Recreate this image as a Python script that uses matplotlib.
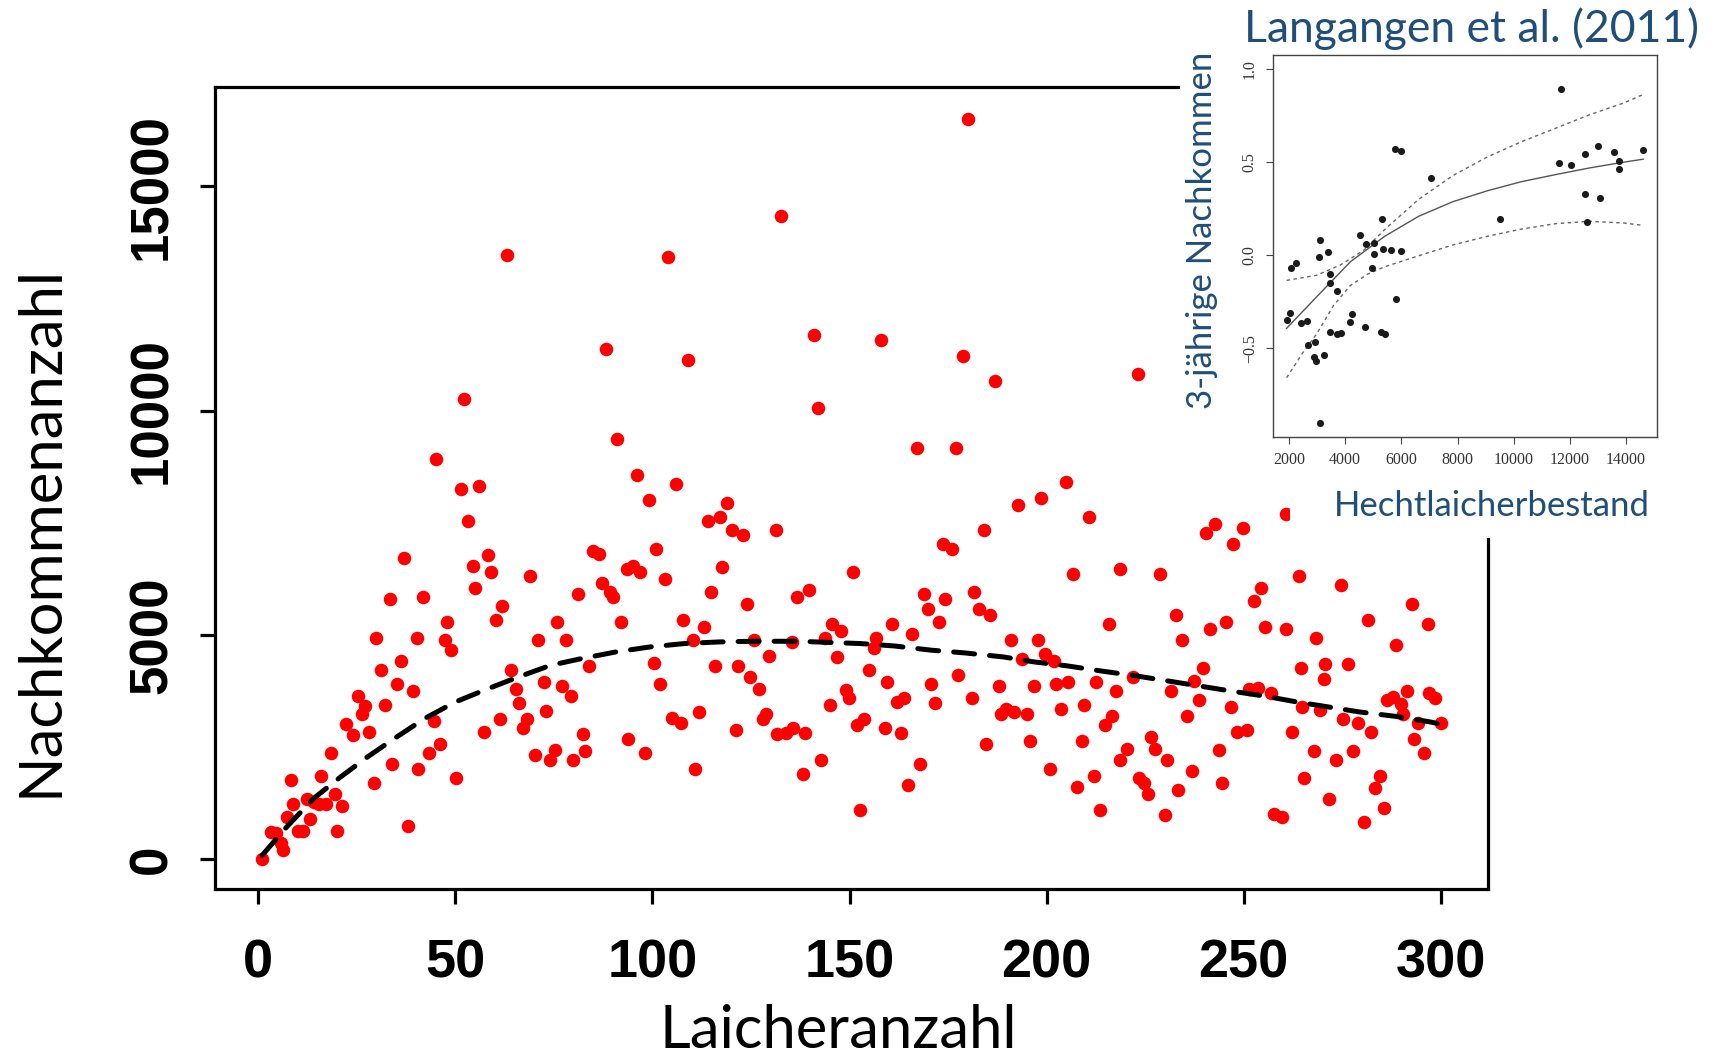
import numpy as np
import matplotlib.pyplot as plt
from matplotlib.patches import Rectangle

# spawners vs. recruits (simulated stock)
laicher = [1, 3.2, 4.5, 5.7, 6.2, 7.2, 8.4, 8.9, 10.2, 11.4, 12.5, 13.1, 14.2, 15.4, 15.9, 17.1,
           18.4, 19.5, 20.1, 21.2, 22.2, 24.1, 25.3, 26.4, 27.0, 28.1, 29.4, 30.0, 31.1, 32.2,
           33.5, 34.0, 35.1, 36.3, 36.9, 38.0, 39.2, 40.3, 40.6, 41.9,
           43.3, 44.6, 45.0, 46.2, 47.3, 47.9, 49.0, 50.2, 51.5, 52.1, 53.2, 54.4, 54.9, 56.1,
           57.2, 58.4, 59.1, 60.2, 61.3, 61.9, 63.2, 64.2, 65.4, 66.1, 67.1, 68.3, 68.9, 70.1,
           71.1, 72.4, 73.0, 74.1, 75.4, 75.9, 77.0, 78.2, 79.3, 79.9, 81.1, 82.3, 82.9, 84.0, 85.0,
           86.4, 87.2, 88.1, 89.3, 89.9, 91.0, 92.1, 93.5, 93.9, 95.0, 96.2, 96.9, 98.0, 99.1,
           100.3, 100.9, 102.0, 103.2, 103.9, 104.9, 106.0, 107.3, 107.8, 108.9, 110.2, 110.8,
           111.9, 113.1, 114.2, 114.9, 115.9, 117.1, 117.7, 118.8, 120.1, 121.2, 121.8, 122.9,
           124.1, 124.7, 125.8, 127.1, 128.1, 128.9, 129.5,
           131.3, 131.6, 132.7, 134.0, 135.3, 135.7, 136.8, 138.1, 138.7, 139.7, 141.0, 142.1,
           142.7, 143.9, 145.1, 145.6, 146.8, 147.9, 149.0, 149.8, 150.9, 151.9, 152.6, 153.7,
           154.9, 156.1, 156.6, 157.9, 159.0, 159.6, 160.8, 162.0, 163.0, 163.7, 164.8, 165.9,
           167.1, 167.8, 168.9, 170.0, 170.6, 171.8, 172.8, 173.7, 174.3,
           176.0, 177.0, 177.6, 178.7, 180.1, 181.0, 181.7, 182.8, 184.0, 184.6, 185.7, 187.0,
           188.0, 188.4, 189.7, 191.0, 191.6, 192.7, 193.8, 195.0, 195.7, 196.8, 197.9, 198.6,
           199.7, 200.8, 201.9, 202.5, 203.7, 204.9, 205.5, 206.7, 207.8, 208.9, 209.5, 210.7,
           211.9, 212.5, 213.6, 214.8, 215.9, 216.5, 217.5, 218.5, 218.6, 220.5,
           221.8, 223.3, 223.5, 224.7, 225.8, 226.4, 227.4, 228.8, 229.9, 230.5, 231.6, 232.7,
           233.4, 234.4, 235.7, 236.8, 237.4, 238.7, 239.7, 240.3, 241.4, 242.7, 243.7, 244.4,
           245.6, 246.7, 247.3, 248.4, 249.7, 250.8, 251.3, 252.7, 253.7, 254.3, 255.5, 256.8,
           257.6, 259.6, 260.7, 260.8, 262.3,
           264.0, 264.5, 264.8, 265.4, 267.8, 268.3, 269.4, 270.3, 270.6, 271.7, 273.5, 274.7,
           275.1, 276.4, 277.6, 279.1, 280.4, 281.6, 282.3, 283.4, 284.5, 285.7, 286.3, 287.8,
           288.5, 289.9, 290.4, 291.4, 292.7, 293.2, 294.3, 295.6, 296.8, 297.1, 298.6, 300]
nachkommen = [0, 608, 580, 357, 200, 943, 1760, 1240, 631, 631, 1353, 892, 1277, 1240, 1857, 1240,
              2378, 1464, 631, 1188, 3009, 2779, 3649, 3232, 3410, 2831, 1710, 4933, 4213, 3448,
              5795, 2117, 3901, 4420, 6725, 742, 3752, 4933, 2021, 5847,
              2378, 3083, 8923, 2579, 4881, 5290, 4674, 1812, 8262, 10250, 7541, 6531, 6056, 8314,
              2838, 6776, 6404, 5343, 3136, 5655, 13465, 4213, 3790, 3493, 2935, 3136, 6313, 2323,
              4881, 3954, 3299, 2207, 2430, 5290, 3864, 4881, 3649, 2220, 5907, 2786, 2414, 4309, 6870,
              6810, 6157, 11370, 5958, 5847, 9377, 5290, 6479, 2675, 6531, 8566, 6404, 2370, 8002,
              4383, 6921, 3901, 6253, 13415, 3150, 8366, 3038, 5343, 11127, 4881, 2012,
              3284, 5179, 7541, 5958, 4309, 7630, 6516, 7951, 7333, 2875, 4309, 7229,
              5697, 4064, 4881, 3804, 3121, 3247, 4525,
              7333, 2786, 14340, 2823, 4844, 2935, 5847, 1910, 2823, 5996, 11690, 10056,
              2220, 4941, 3448, 5238, 4510, 5089, 3767, 3596, 6404, 2987, 1092, 3136,
              4213, 4710, 4941, 11565, 2935, 3954, 5238, 3507, 2823, 3604, 1656, 5031,
              9177, 2117, 5907, 5588, 3901, 3493, 5290, 7036, 5795,
              6921, 9177, 4116, 11225, 16500, 3604, 5958, 5588, 7333, 2579, 5439, 10665,
              3864, 3232, 3359, 4881, 3284, 7898, 4472, 3247, 2637, 3864, 4881, 8054,
              4585, 2021, 4420, 3916, 3344, 8410, 3954, 6359, 1605, 2637, 3448, 7639,
              1857, 3954, 1092, 2987, 5238, 3194, 3752, 2207, 6464, 2467,
              4064, 10810, 1820, 1701, 1449, 2727, 2467, 6366, 987, 2220, 3752, 5439,
              1554, 4881, 3194, 1968, 3975, 3544, 4264, 7281, 5127, 7481, 2430, 1710,
              5290, 3396, 7021, 2838, 7392, 2875, 3804, 5751, 3827, 6056, 5179, 3707,
              1003, 943, 5127, 7690, 2838,
              6313, 4264, 3396, 1803, 2414, 4933, 3337, 4012, 4361, 1344, 2207, 6107,
              3128, 4361, 2414, 3038, 832, 5343, 2831, 1598, 1857, 1143, 3544, 3618,
              4777, 3455, 3232, 3752, 5697, 2675, 3038, 2370, 5238, 3707, 3596, 3038]

# smoothed mean
trend_x = [1, 6.9, 14.1, 20.9, 27.7, 34.5, 42.2, 50.0, 57.7, 66.0, 74.2, 82.0, 90.7, 99.4,
           108.1, 116.8, 125.5, 137.0, 152.8, 161.3, 170.9, 179.3, 189.0, 196.9, 204.8, 213.8,
           221.7, 230.8, 238.7, 246.6, 255.6, 263.5, 271.5, 279.4, 288.4, 297.4, 300]
trend_y = [89, 690, 1360, 1835, 2280, 2690, 3136, 3506, 3782, 4064, 4324, 4473, 4621, 4733,
           4808, 4844, 4859, 4859, 4808, 4755, 4659, 4599, 4510, 4398, 4316, 4197,
           4101, 3974, 3863, 3752, 3633, 3506, 3395, 3283, 3187, 3060, 3009]

# Langangen et al. (2011): pike spawning stock vs. 3-year recruits
hecht_x = [1915, 2024, 2061, 2243, 2425, 2632, 2680, 2923, 2887, 2972, 3251, 3057, 3117, 3117,
           3373, 3445, 3445, 3458, 3725, 3725, 3846, 4174, 4259, 4539, 4745, 4709, 5024, 5036,
           4963, 5316, 5340, 5292, 5425, 5620, 5802, 5790, 5972, 5996, 7065, 9494, 11680,
           11620, 12033, 12543, 12543, 12604, 13004, 13065, 13587, 13745, 13757, 14607]
hecht_y = [-0.350, -0.313, -0.072, -0.042, -0.362, -0.353, -0.480, -0.466, -0.549, -0.571,
           -0.538, -0.009, 0.083, -0.900, 0.014, -0.101, -0.149, -0.411, -0.194, -0.422,
           -0.418, -0.357, -0.317, 0.107, 0.060, -0.384, 0.063, 0.007, -0.069, 0.192, 0.033,
           -0.411, -0.424, 0.025, -0.236, 0.571, 0.558, 0.022, 0.411, 0.196, 0.888, 0.495,
           0.482, 0.540, 0.326, 0.176, 0.583, 0.308, 0.551, 0.502, 0.460, 0.563]
fit_x = [1915, 2972, 4186, 5401, 6616, 7830, 9045, 10260, 11474, 12689, 13903, 14607]
fit_y = [-0.393, -0.226, -0.036, 0.100, 0.208, 0.286, 0.344, 0.393, 0.431, 0.467, 0.498, 0.514]
upper_x = [1915, 2972, 3822, 4672, 5401, 6616, 7830, 9045, 10260, 11474, 12689, 13903, 14607]
upper_y = [-0.136, -0.109, -0.054, 0.027, 0.136, 0.299, 0.426, 0.525, 0.607, 0.679, 0.752,
           0.815, 0.861]
lower_x = [1915, 2486, 2972, 3579, 4186, 4794, 5401, 6616, 7830, 9045, 10260, 11474, 12689,
           13903, 14607]
lower_y = [-0.658, -0.525, -0.426, -0.272, -0.163, -0.103, -0.063, -0.004, 0.054, 0.100,
           0.139, 0.168, 0.181, 0.172, 0.159]

W, H = 1713, 1059
blue = '#1F4E79'
calibri = ['Lato', 'DejaVu Sans']

def box(l, t, r, b):
    # pixel box -> figure fraction rect
    return [l / W, 1 - b / H, (r - l) / W, (b - t) / H]

fig = plt.figure(figsize=(W / 100, H / 100), dpi=100)

ax = fig.add_axes(box(215, 87, 1488, 889))
ax.scatter(laicher, nachkommen, s=95, c='red', linewidths=0, zorder=2)
ax.plot(trend_x, trend_y, color='black', lw=3.6, dashes=(4.2, 3.0),
        dash_capstyle='round', zorder=3)
ax.set_xlim(-10.96, 311.96)
ax.set_ylim(-662, 17212)
ax.set_xticks([0, 50, 100, 150, 200, 250, 300])
ax.set_yticks([0, 5000, 10000, 15000])
for sp in ax.spines.values():
    sp.set_linewidth(2.3)
ax.tick_params(length=11, width=2.3)
ax.tick_params(axis='x', pad=25)
ax.tick_params(axis='y', pad=16)
for lab in ax.get_xticklabels():
    lab.set_fontfamily('Liberation Sans')
    lab.set_fontweight('bold')
    lab.set_fontsize(39)
for lab in ax.get_yticklabels():
    lab.set_fontfamily('Liberation Sans')
    lab.set_fontweight('bold')
    lab.set_fontsize(38)
    lab.set_rotation(90)
    lab.set_verticalalignment('center')

fig.text(41 / W, 1 - 531 / H, 'Nachkommenanzahl', rotation=90, ha='center', va='center',
         fontsize=43, family=calibri)
fig.text(838 / W, 1 - 1031 / H, 'Laicheranzahl', ha='center', va='center',
         fontsize=43, family=calibri)

# white background of the pasted inset
fig.add_artist(Rectangle((1180 / W, 1 - 470 / H), (W - 1180) / W, 470 / H,
                         transform=fig.transFigure, facecolor='white', edgecolor='none', zorder=5))
fig.add_artist(Rectangle((1290 / W, 1 - 538 / H), (W - 1290) / W, 70 / H,
                         transform=fig.transFigure, facecolor='white', edgecolor='none', zorder=5))

ins = fig.add_axes(box(1273, 55, 1657, 437), zorder=10)
ins.scatter(hecht_x, hecht_y, s=26, c='#1a1a1a', linewidths=0, zorder=3)
ins.plot(fit_x, fit_y, color='#555555', lw=1.0)
ins.plot(upper_x, upper_y, color='#666666', lw=1.0, dashes=(2.5, 2.5))
ins.plot(lower_x, lower_y, color='#666666', lw=1.0, dashes=(2.5, 2.5))
ins.set_xlim(1430, 15100)
ins.set_ylim(-0.976, 1.073)
ins.set_xticks([2000, 4000, 6000, 8000, 10000, 12000, 14000])
ins.set_yticks([-0.5, 0.0, 0.5, 1.0])
ins.set_yticklabels(['\u22120.5', '0.0', '0.5', '1.0'])
for sp in ins.spines.values():
    sp.set_linewidth(1.0)
    sp.set_color('#444444')
ins.tick_params(length=5, width=0.8, color='#444444', labelcolor='#333333', pad=6)
for lab in ins.get_xticklabels() + ins.get_yticklabels():
    lab.set_fontfamily('Liberation Serif')
    lab.set_fontsize(11.5)
for lab in ins.get_yticklabels():
    lab.set_rotation(90)
    lab.set_verticalalignment('center')

fig.text(1472 / W, 1 - 29 / H, 'Langangen et al. (2011)', ha='center', va='center',
         fontsize=32, color=blue, family=calibri, zorder=11)
fig.text(1202 / W, 1 - 230 / H, '3-jährige Nachkommen', rotation=90, ha='center', va='center',
         fontsize=25, color=blue, family=calibri, zorder=11)
fig.text(1492 / W, 1 - 506 / H, 'Hechtlaicherbestand', ha='center', va='center',
         fontsize=25, color=blue, family=calibri, zorder=11)

fig.savefig('out.png', dpi=100)
